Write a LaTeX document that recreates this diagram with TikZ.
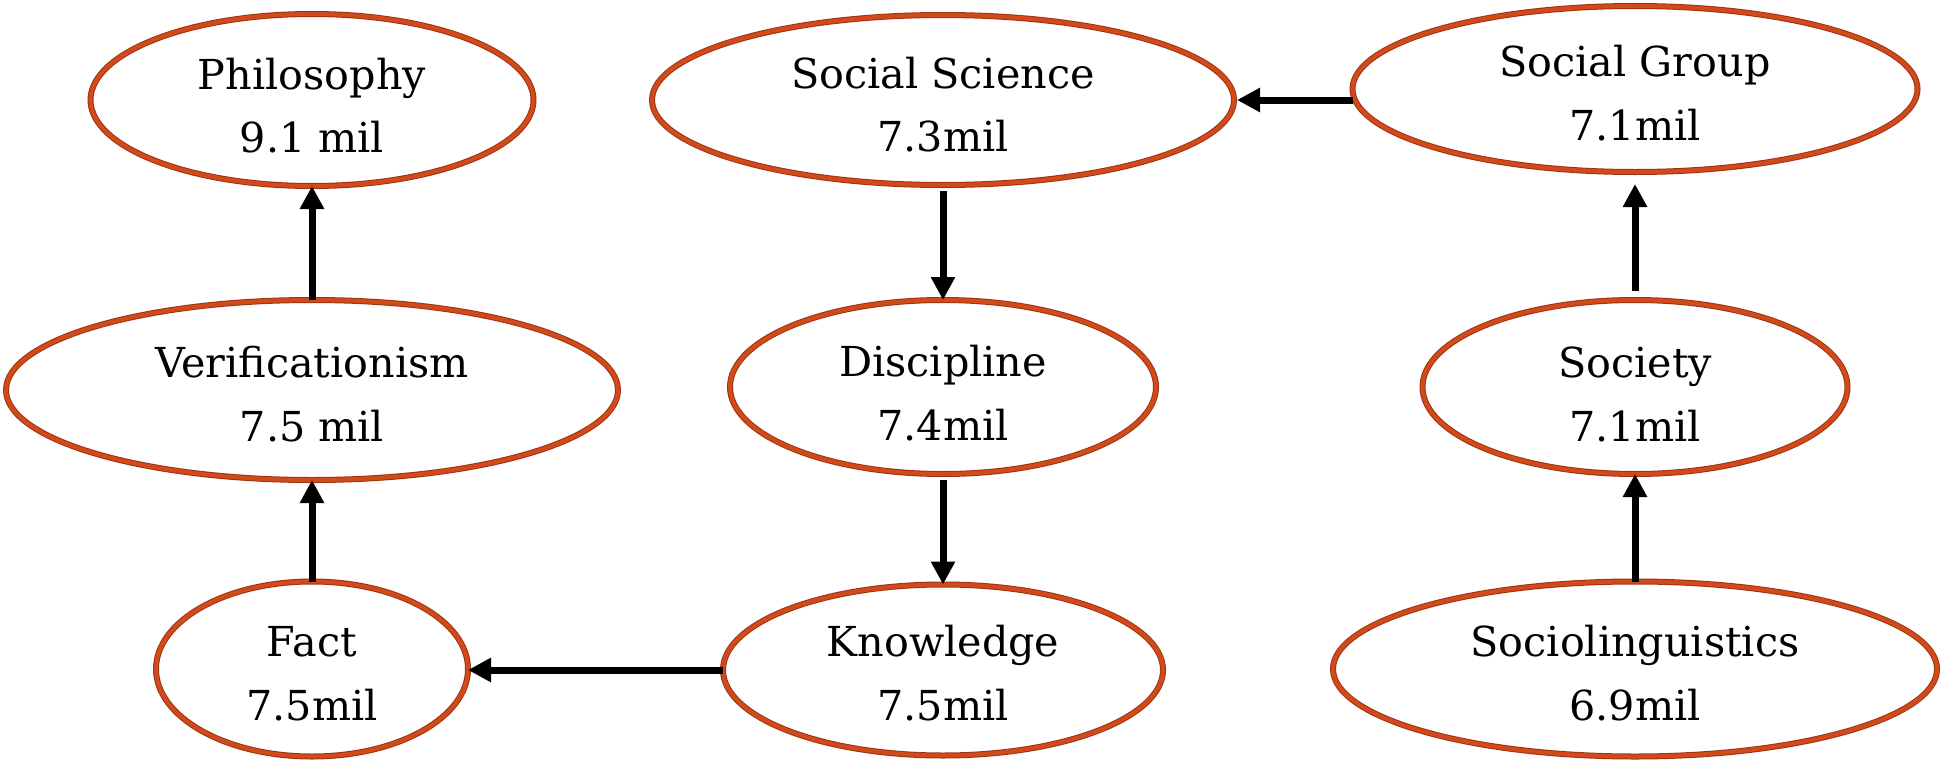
\documentclass[tikz,border=0pt]{standalone}
\usepackage{fontspec}
\setmainfont{DejaVu Serif}
\usetikzlibrary{arrows.meta, positioning, shapes.geometric}

\definecolor{borde}{HTML}{D2491A}
\definecolor{bordeosc}{HTML}{9C3414}

\begin{document}
\begin{tikzpicture}[
        node distance=2.2cm,
        every node/.style={font=\fontsize{23.5}{36}\selectfont},
        concepto/.style={
            ellipse, draw=bordeosc, line width=0.02cm, double=borde,
            double distance=0.08cm, fill=white, align=center,
            inner sep=0pt, outer sep=0pt, text depth=0pt, text height=2.04cm
        },
        arr/.style={-{Triangle[length=0.46cm, width=0.46cm]}, line width=0.14cm, draw=black}
    ]
    \useasboundingbox (0,0) rectangle (38.82,-15.24);

% --- Columna izquierda ---
        \node[concepto, minimum width=8.86cm, minimum height=3.44cm, text height=2.1cm] (philo) at (6.24,-2.0)
            {Philosophy\\9.1 mil};
        \node[concepto, minimum width=12.24cm, minimum height=3.6cm, below=2.28cm of philo] (verif)
            {Verificationism\\7.5 mil};
        \node[concepto, minimum width=6.24cm, minimum height=3.5cm, below=2.03cm of verif] (fact)
            {Fact\\7.5mil};

% --- Columna central ---
        \node[concepto, minimum width=11.64cm, minimum height=3.4cm, text height=2.06cm] (socsci) at (18.86,-2.0)
            {Social Science\\7.3mil};
        \node[concepto, minimum width=8.52cm, minimum height=3.48cm, text height=2.12cm, below=2.3cm of socsci] (disc)
            {Discipline\\7.4mil};
        \node[concepto, minimum width=8.8cm, minimum height=3.42cm, text height=2cm, below=2.21cm of disc] (know)
            {Knowledge\\7.5mil};

% --- Columna derecha ---
        \node[concepto, minimum width=11.3cm, minimum height=3.32cm] (socgroup) at (32.7,-1.78)
            {Social Group\\7.1mil};
        \node[concepto, minimum width=8.5cm, minimum height=3.48cm, text height=2.16cm, below=2.56cm of socgroup] (society)
            {Society\\7.1mil};
        \node[concepto, minimum width=12.08cm, minimum height=3.5cm, below=2.15cm of society] (socling)
            {Sociolinguistics\\6.9mil};

% --- Flechas ---
        \draw[arr] (verif.north) -- (philo.south);
        \draw[arr] (fact.north) -- (verif.south);
        \draw[arr, shorten <=0.12cm] (socsci.south) -- (disc.north);
        \draw[arr, shorten <=0.12cm] (disc.south) -- (know.north);
        \draw[arr] (know.west) -- (know.west -| fact.east);
        \draw[arr, shorten >=0.06cm] (socsci.east -| socgroup.west) -- (socsci.east);
        \draw[arr, shorten <=0.18cm, shorten >=0.24cm] (society.north) -- (socgroup.south);
        \draw[arr] (socling.north) -- (society.south);
    \end{tikzpicture}
\end{document}
